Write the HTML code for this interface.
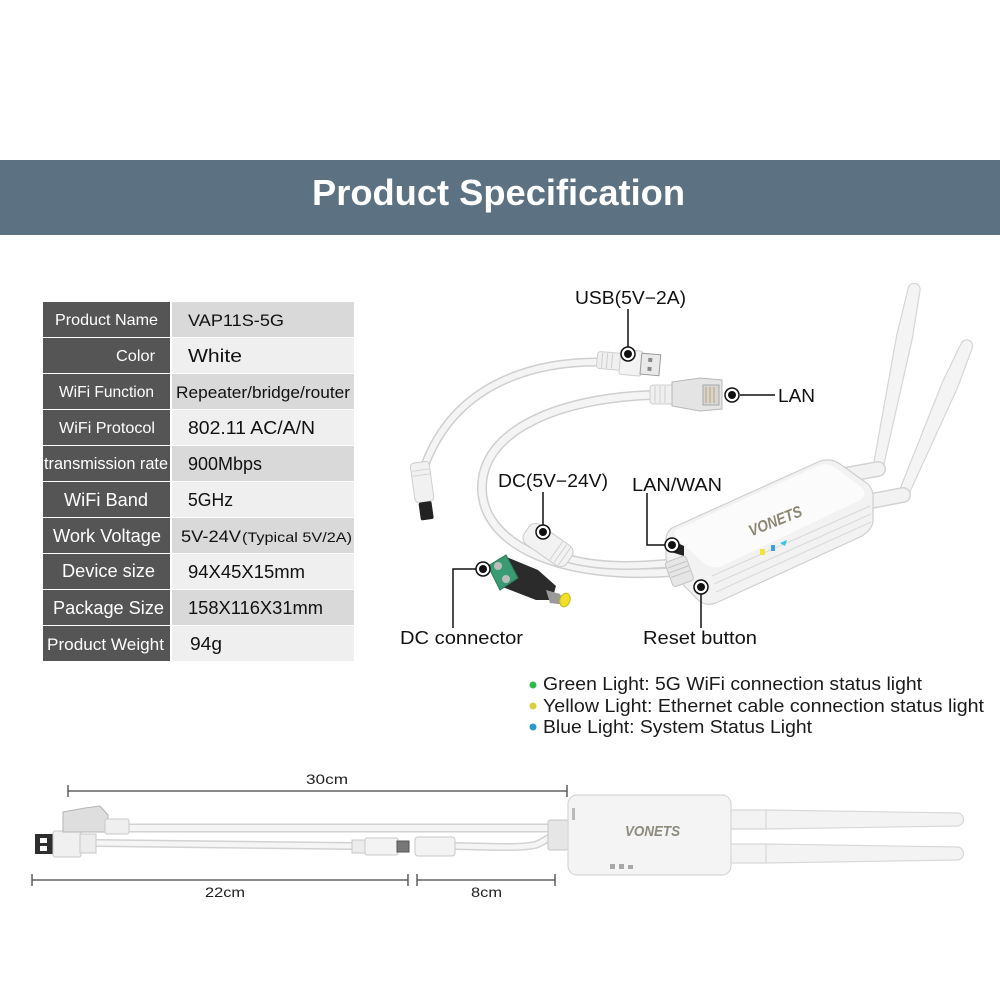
<!DOCTYPE html>
<html><head><meta charset="utf-8"><style>
html,body{margin:0;padding:0;background:#fff;}
svg{display:block;font-family:"Liberation Sans",Arial,sans-serif;}
</style></head><body>
<svg width="1000" height="1000" viewBox="0 0 1000 1000" xmlns="http://www.w3.org/2000/svg">
<rect width="1000" height="1000" fill="#fff"/>
<!-- Header -->
<rect x="0" y="160" width="1000" height="75" fill="#5c7282"/>
<text x="312" y="205" font-size="36" font-weight="bold" fill="#fff" textLength="373" lengthAdjust="spacingAndGlyphs">Product Specification</text>

<!-- Table -->
<g>
<rect x="43" y="302" width="127" height="35" fill="#555"/><rect x="172" y="302" width="182" height="35" fill="#d9d9d9"/>
<rect x="43" y="338" width="127" height="35" fill="#555"/><rect x="172" y="338" width="182" height="35" fill="#efefef"/>
<rect x="43" y="374" width="127" height="35" fill="#555"/><rect x="172" y="374" width="182" height="35" fill="#d9d9d9"/>
<rect x="43" y="410" width="127" height="35" fill="#555"/><rect x="172" y="410" width="182" height="35" fill="#efefef"/>
<rect x="43" y="446" width="127" height="35" fill="#555"/><rect x="172" y="446" width="182" height="35" fill="#d9d9d9"/>
<rect x="43" y="482" width="127" height="35" fill="#555"/><rect x="172" y="482" width="182" height="35" fill="#efefef"/>
<rect x="43" y="518" width="127" height="35" fill="#555"/><rect x="172" y="518" width="182" height="35" fill="#d9d9d9"/>
<rect x="43" y="554" width="127" height="35" fill="#555"/><rect x="172" y="554" width="182" height="35" fill="#efefef"/>
<rect x="43" y="590" width="127" height="35" fill="#555"/><rect x="172" y="590" width="182" height="35" fill="#d9d9d9"/>
<rect x="43" y="626" width="127" height="35" fill="#555"/><rect x="172" y="626" width="182" height="35" fill="#efefef"/>
</g>
<g fill="#fff">
<text x="55" y="325" font-size="16" textLength="103" lengthAdjust="spacingAndGlyphs">Product Name</text>
<text x="116" y="361" font-size="16" textLength="39" lengthAdjust="spacingAndGlyphs">Color</text>
<text x="59" y="397" font-size="16" textLength="95" lengthAdjust="spacingAndGlyphs">WiFi Function</text>
<text x="59" y="433" font-size="16" textLength="96" lengthAdjust="spacingAndGlyphs">WiFi Protocol</text>
<text x="44" y="469" font-size="17" textLength="124" lengthAdjust="spacingAndGlyphs">transmission rate</text>
<text x="64" y="506" font-size="18" textLength="84" lengthAdjust="spacingAndGlyphs">WiFi Band</text>
<text x="53" y="542" font-size="18" textLength="108" lengthAdjust="spacingAndGlyphs">Work Voltage</text>
<text x="62" y="577" font-size="18" textLength="93" lengthAdjust="spacingAndGlyphs">Device size</text>
<text x="53" y="614" font-size="18" textLength="111" lengthAdjust="spacingAndGlyphs">Package Size</text>
<text x="47" y="650" font-size="17" textLength="117" lengthAdjust="spacingAndGlyphs">Product Weight</text>
</g>
<g fill="#111">
<text x="188" y="326" font-size="17" textLength="96" lengthAdjust="spacingAndGlyphs">VAP11S-5G</text>
<text x="188" y="362" font-size="18" textLength="54" lengthAdjust="spacingAndGlyphs">White</text>
<text x="176" y="398" font-size="17" textLength="174" lengthAdjust="spacingAndGlyphs">Repeater/bridge/router</text>
<text x="188" y="434" font-size="18" textLength="127" lengthAdjust="spacingAndGlyphs">802.11 AC/A/N</text>
<text x="188" y="470" font-size="18" textLength="74" lengthAdjust="spacingAndGlyphs">900Mbps</text>
<text x="188" y="506" font-size="18" textLength="45" lengthAdjust="spacingAndGlyphs">5GHz</text>
<text x="181" y="542" font-size="17" textLength="60" lengthAdjust="spacingAndGlyphs">5V-24V</text>
<text x="242" y="542" font-size="14" textLength="110" lengthAdjust="spacingAndGlyphs">(Typical 5V/2A)</text>
<text x="188" y="578" font-size="18" textLength="117" lengthAdjust="spacingAndGlyphs">94X45X15mm</text>
<text x="188" y="614" font-size="18" textLength="135" lengthAdjust="spacingAndGlyphs">158X116X31mm</text>
<text x="190" y="650" font-size="18" textLength="32" lengthAdjust="spacingAndGlyphs">94g</text>
</g>

<!-- ===== Top product picture ===== -->
<!-- antennas -->
<g fill="#f4f4f4" stroke="#d6d6d6" stroke-width="1.2">
<path d="M873.1,467 L896.8,334.8 L908.2,288.2 A6,6 0 0 1 920,290.6 L912.4,338 L882.9,469 Z"/>
<path d="M898.4,493 L942.5,382 L961.1,343.5 A6,6 0 0 1 972.2,348.2 L957.3,388.2 L907.6,497 Z"/>
</g>
<g stroke-linecap="round">
<line x1="834" y1="477" x2="878" y2="469" stroke="#d3d3d3" stroke-width="16"/>
<line x1="834" y1="477" x2="878" y2="469" stroke="#f2f2f2" stroke-width="13"/>
<line x1="866" y1="502" x2="903" y2="495" stroke="#d3d3d3" stroke-width="16"/>
<line x1="866" y1="502" x2="903" y2="495" stroke="#f2f2f2" stroke-width="13"/>
</g>

<!-- cables -->
<g fill="none" stroke-linecap="round">
<path d="M598,362 C530,362 455,385 425,465" stroke="#cfcfcf" stroke-width="9"/>
<path d="M598,362 C530,362 455,385 425,465" stroke="#f4f4f4" stroke-width="6"/>
<path d="M652,395 C560,398 480,430 482,490 C484,545 560,580 672,572" stroke="#cfcfcf" stroke-width="10"/>
<path d="M652,395 C560,398 480,430 482,490 C484,545 560,580 672,572" stroke="#f4f4f4" stroke-width="7"/>
<path d="M566,558 C600,568 640,566 672,563" stroke="#cfcfcf" stroke-width="9"/>
<path d="M566,558 C600,568 640,566 672,563" stroke="#f4f4f4" stroke-width="6"/>
</g>

<!-- left DC barrel plug -->
<g transform="rotate(-8 423 492)">
<rect x="414" y="462" width="19" height="40" rx="4" fill="#f1f1f1" stroke="#cfcfcf"/>
<line x1="415" y1="470" x2="432" y2="470" stroke="#d5d5d5"/>
<line x1="415" y1="475" x2="432" y2="475" stroke="#d5d5d5"/>
<rect x="417" y="502" width="13" height="18" rx="2" fill="#222"/>
</g>

<!-- USB plug -->
<g transform="rotate(5 628 362)">
<rect x="597" y="354" width="24" height="17" rx="3" fill="#efefef" stroke="#cfcfcf"/>
<line x1="602" y1="355" x2="602" y2="370" stroke="#cfcfcf"/>
<line x1="607" y1="355" x2="607" y2="370" stroke="#cfcfcf"/>
<line x1="612" y1="355" x2="612" y2="370" stroke="#cfcfcf"/>
<rect x="620" y="350" width="22" height="25" rx="2" fill="#f3f3f3" stroke="#cfcfcf"/>
<rect x="641" y="352" width="19" height="21" fill="#e9e9e9" stroke="#9a9a9a"/>
<rect x="648" y="356" width="4" height="4" fill="#888"/>
<rect x="648" y="365" width="4" height="4" fill="#888"/>
</g>

<!-- RJ45 LAN plug -->
<g>
<rect x="650" y="385" width="24" height="19" rx="3" fill="#efefef" stroke="#cfcfcf"/>
<line x1="655" y1="386" x2="655" y2="403" stroke="#cfcfcf"/>
<line x1="660" y1="386" x2="660" y2="403" stroke="#cfcfcf"/>
<line x1="665" y1="386" x2="665" y2="403" stroke="#cfcfcf"/>
<path d="M672,382 L700,378 L722,380 L722,409 L700,411 L672,406 Z" fill="#e4e4e4" stroke="#b8b8b8"/>
<rect x="703" y="385" width="16" height="20" fill="#d6d6d6" stroke="#a8a8a8"/>
<line x1="706" y1="387" x2="706" y2="403" stroke="#c2a060"/>
<line x1="710" y1="387" x2="710" y2="403" stroke="#c2a060"/>
<line x1="714" y1="387" x2="714" y2="403" stroke="#c2a060"/>
</g>

<!-- DC female connector -->
<g transform="rotate(35 548 545)">
<rect x="522" y="533" width="52" height="24" rx="8" fill="#f2f2f2" stroke="#cbcbcb"/>
<line x1="558" y1="534" x2="558" y2="556" stroke="#d2d2d2"/>
<line x1="563" y1="534" x2="563" y2="556" stroke="#d2d2d2"/>
<line x1="568" y1="534" x2="568" y2="556" stroke="#d2d2d2"/>
</g>

<!-- DC terminal connector -->
<g>
<path d="M504,556 L538,570 L556,586 L552,600 L536,600 L500,586 Z" fill="#2b2b2b"/>
<path d="M488,566 L506,555 L518,578 L500,590 Z" fill="#3a9a72" stroke="#2e7a5a"/>
<circle cx="498" cy="566" r="4" fill="#bdbdbd"/>
<circle cx="506" cy="579" r="4" fill="#bdbdbd"/>
<path d="M546,590 L560,594 L566,605 L550,603 Z" fill="#9a9a9a"/>
<ellipse cx="565" cy="600" rx="5" ry="7" transform="rotate(20 565 600)" fill="#f0e02a" stroke="#c9b820"/>
</g>

<!-- device body -->
<path d="M672,528 L818,462 Q830,457 840,464 L868,484 Q874,490 873,500 L873,522 Q871,531 860,537 L716,603 Q705,607 697,599 L672,573 Q666,566 666,556 L666,540 Q666,532 672,528 Z" fill="#f2f2f2" stroke="#cfcfcf" stroke-width="1.2"/>
<path d="M676,530 L818,466 Q828,462 836,468 L862,488 Q868,494 860,500 L722,566 Q712,570 704,563 L678,540 Q672,534 676,530 Z" fill="#fbfbfb"/>
<g stroke="#dadada" stroke-width="1.2" fill="none">
<line x1="712" y1="576" x2="870" y2="506"/>
<line x1="714" y1="584" x2="871" y2="514"/>
<line x1="716" y1="592" x2="871" y2="522"/>
</g>
<path d="M671,540 L684,546 L684,556 L671,552 Z" fill="#222"/>
<!-- strain relief at device -->
<g transform="rotate(-20 680 570)">
<rect x="668" y="558" width="22" height="26" rx="3" fill="#e6e6e6" stroke="#c4c4c4"/>
<line x1="669" y1="564" x2="689" y2="564" stroke="#c4c4c4"/>
<line x1="669" y1="569" x2="689" y2="569" stroke="#c4c4c4"/>
<line x1="669" y1="574" x2="689" y2="574" stroke="#c4c4c4"/>
</g>
<!-- logo & LEDs -->
<text x="746" y="527" font-size="16" font-style="italic" font-weight="bold" fill="#8c8672" transform="rotate(-22 773 518)" textLength="56" lengthAdjust="spacingAndGlyphs">VONETS</text>
<rect x="760" y="549" width="5" height="6" fill="#f2e43a"/>
<rect x="771" y="545" width="4" height="6" fill="#3a9fe8"/>
<path d="M780,543 L787,540 L785,546 Z" fill="#35c6e0"/>

<!-- leader lines -->
<g stroke="#111" stroke-width="1.5" fill="none">
<line x1="628" y1="309" x2="628" y2="347"/>
<line x1="740" y1="395" x2="775" y2="395"/>
<line x1="543" y1="492" x2="543" y2="525"/>
<polyline points="647,493 647,545 665,545"/>
<polyline points="476,569 453,569 453,628"/>
<line x1="701" y1="594" x2="701" y2="628"/>
</g>
<g stroke="#111" stroke-width="1.5" fill="#fff">
<circle cx="628" cy="354" r="7"/>
<circle cx="732" cy="395" r="7"/>
<circle cx="543" cy="532" r="7"/>
<circle cx="672" cy="545" r="7"/>
<circle cx="483" cy="569" r="7"/>
<circle cx="701" cy="587" r="7"/>
</g>
<g fill="#111">
<circle cx="628" cy="354" r="4"/>
<circle cx="732" cy="395" r="4"/>
<circle cx="543" cy="532" r="4"/>
<circle cx="672" cy="545" r="4"/>
<circle cx="483" cy="569" r="4"/>
<circle cx="701" cy="587" r="4"/>
</g>
<g fill="#111" font-size="18">
<text x="575" y="304" textLength="111" lengthAdjust="spacingAndGlyphs">USB(5V−2A)</text>
<text x="778" y="402" textLength="37" lengthAdjust="spacingAndGlyphs">LAN</text>
<text x="498" y="487" textLength="110" lengthAdjust="spacingAndGlyphs">DC(5V−24V)</text>
<text x="632" y="491" textLength="90" lengthAdjust="spacingAndGlyphs">LAN/WAN</text>
<text x="400" y="644" textLength="123" lengthAdjust="spacingAndGlyphs">DC connector</text>
<text x="643" y="644" textLength="114" lengthAdjust="spacingAndGlyphs">Reset button</text>
</g>

<!-- legend -->
<circle cx="533" cy="685" r="3.5" fill="#2db84a"/>
<circle cx="533" cy="706" r="3.5" fill="#d8d03a"/>
<circle cx="533" cy="727" r="3.5" fill="#2a9bc9"/>
<g fill="#1a1a1a" font-size="18">
<text x="543" y="690" textLength="379" lengthAdjust="spacingAndGlyphs">Green Light: 5G WiFi connection status light</text>
<text x="543" y="712" textLength="441" lengthAdjust="spacingAndGlyphs">Yellow Light: Ethernet cable connection status light</text>
<text x="543" y="733" textLength="269" lengthAdjust="spacingAndGlyphs">Blue Light: System Status Light</text>
</g>

<!-- ===== Bottom dimension picture ===== -->
<g stroke="#444" stroke-width="1.3">
<line x1="68" y1="791" x2="567" y2="791"/>
<line x1="68" y1="785" x2="68" y2="797"/>
<line x1="567" y1="785" x2="567" y2="797"/>
<line x1="32" y1="880" x2="408" y2="880"/>
<line x1="32" y1="874" x2="32" y2="886"/>
<line x1="408" y1="874" x2="408" y2="886"/>
<line x1="417" y1="880" x2="555" y2="880"/>
<line x1="417" y1="874" x2="417" y2="886"/>
<line x1="555" y1="874" x2="555" y2="886"/>
</g>
<g fill="#222" font-size="14">
<text x="306" y="784" textLength="42" lengthAdjust="spacingAndGlyphs">30cm</text>
<text x="205" y="897" textLength="40" lengthAdjust="spacingAndGlyphs">22cm</text>
<text x="471" y="897" textLength="31" lengthAdjust="spacingAndGlyphs">8cm</text>
</g>
<!-- bottom antennas -->
<g fill="#f3f3f3" stroke="#d8d8d8" stroke-width="1.2">
<rect x="728" y="810" width="40" height="19" rx="3"/>
<path d="M766,810 L957,813 A6.5,6.5 0 0 1 957,826 L766,829 Z"/>
<rect x="728" y="844" width="40" height="19" rx="3"/>
<path d="M766,844 L957,847 A6.5,6.5 0 0 1 957,860 L766,863 Z"/>
</g>
<!-- bottom cables -->
<g fill="none" stroke-linecap="round">
<line x1="128" y1="828" x2="552" y2="828" stroke="#d2d2d2" stroke-width="9"/>
<line x1="128" y1="828" x2="552" y2="828" stroke="#f5f5f5" stroke-width="6"/>
<line x1="95" y1="843" x2="352" y2="846" stroke="#d2d2d2" stroke-width="8"/>
<line x1="95" y1="843" x2="352" y2="846" stroke="#f5f5f5" stroke-width="5"/>
<path d="M455,846 C500,847 520,848 535,845 C545,842 548,836 556,836" stroke="#d2d2d2" stroke-width="8"/>
<path d="M455,846 C500,847 520,848 535,845 C545,842 548,836 556,836" stroke="#f5f5f5" stroke-width="5"/>
</g>
<!-- DC plugs bottom -->
<rect x="352" y="840" width="14" height="13" fill="#ececec" stroke="#c8c8c8"/>
<rect x="365" y="838" width="33" height="17" rx="2" fill="#f3f3f3" stroke="#c8c8c8"/>
<rect x="397" y="841" width="12" height="11" fill="#777" stroke="#555"/>
<rect x="415" y="837" width="40" height="19" rx="3" fill="#f3f3f3" stroke="#c8c8c8"/>
<!-- USB plug bottom -->
<rect x="35" y="834" width="19" height="20" fill="#2e2e2e"/>
<rect x="40" y="838" width="7" height="5" fill="#fff"/>
<rect x="40" y="846" width="7" height="5" fill="#fff"/>
<rect x="53" y="831" width="28" height="26" rx="2" fill="#f0f0f0" stroke="#c8c8c8"/>
<rect x="80" y="834" width="16" height="19" fill="#ececec" stroke="#c8c8c8"/>
<!-- LAN plug bottom -->
<path d="M63,812 L85,808 L100,806 L108,815 L108,832 L63,832 Z" fill="#dedede" stroke="#b5b5b5"/>
<rect x="105" y="819" width="24" height="15" rx="2" fill="#efefef" stroke="#c8c8c8"/>
<!-- strain relief at device -->
<rect x="548" y="820" width="20" height="30" rx="2" fill="#e6e6e6" stroke="#c4c4c4"/>
<!-- bottom device -->
<rect x="568" y="795" width="163" height="80" rx="9" fill="#f4f4f4" stroke="#d6d6d6" stroke-width="1.2"/>
<rect x="572" y="808" width="3" height="12" fill="#bbb"/>
<text x="625" y="836" font-size="15" font-style="italic" font-weight="bold" fill="#8d8a7e" textLength="55" lengthAdjust="spacingAndGlyphs">VONETS</text>
<rect x="610" y="864" width="5" height="5" fill="#a8a8a8"/>
<rect x="619" y="864" width="5" height="5" fill="#a8a8a8"/>
<rect x="628" y="865" width="5" height="4" fill="#a8a8a8"/>
</svg>
</body></html>
